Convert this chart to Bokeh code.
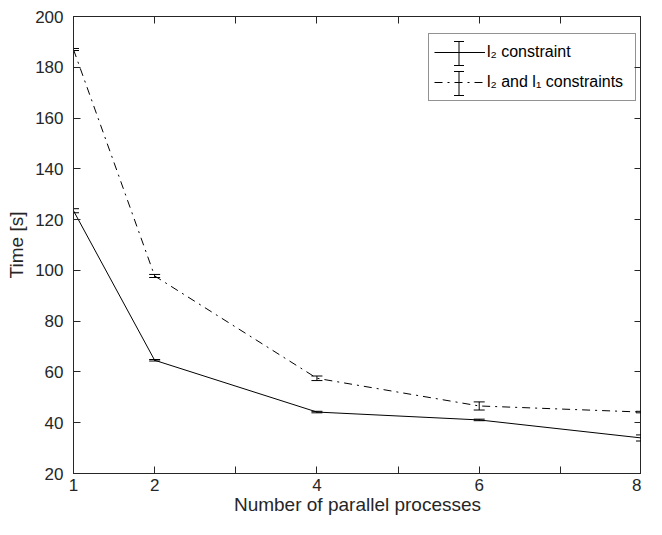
from bokeh.plotting import figure
from bokeh.models import (ColumnDataSource, Range1d, LinearAxis, FixedTicker,
                          Whisker, TeeHead, Legend, LegendItem)
from bokeh.embed import file_html
from bokeh.resources import INLINE

# ---- data ----
procs = [1, 2, 4, 6, 8]
time_l2 = [123.5, 64.6, 44.2, 41.1, 34.0]
err_l2 = [0.8, 0.3, 0.3, 0.3, 1.2]
time_l2l1 = [187.0, 97.8, 57.5, 46.6, 44.2]
err_l2l1 = [0.4, 0.6, 0.9, 1.6, 0.3]

x_ticks = [1, 2, 4, 6, 8]
x_minor_ticks = [3, 5, 7]
y_ticks = [20, 40, 60, 80, 100, 120, 140, 160, 180, 200]

series_labels = ["l\u2082 constraint", "l\u2082 and l\u2081 constraints"]

AX = "#262626"
FONT = "Liberation Sans"

X0, X1, Y0, Y1 = 1, 8, 20, 200

# ---- layout constants ----
FL, FT, FW, FH, FBOT = 73, 16, 568, 457, 46

p = figure(frame_width=FW, frame_height=FH,
           x_range=Range1d(X0, X1), y_range=Range1d(Y0, Y1),
           output_backend="svg", toolbar_location=None,
           min_border_left=FL, min_border_right=0, min_border_top=FT,
           min_border_bottom=FBOT,
           x_axis_label="Number of parallel processes", y_axis_label="Time [s]")
p.xgrid.visible = False
p.ygrid.visible = False
p.outline_line_color = AX
p.background_fill_color = "white"
p.border_fill_color = "white"


def style_axis(ax, ticker, show_labels):
    ax.ticker = ticker
    ax.axis_line_color = AX
    ax.axis_line_width = 1
    ax.major_tick_line_color = AX
    ax.minor_tick_line_color = AX
    ax.major_tick_in = 7
    ax.major_tick_out = 0
    ax.minor_tick_in = 7
    ax.minor_tick_out = 0
    ax.major_label_text_font = FONT
    if show_labels:
        ax.major_label_text_font_size = "17px"
        ax.major_label_text_color = AX
    else:
        ax.major_label_text_font_size = "1px"
        ax.major_label_text_color = None
        ax.major_label_text_alpha = 0
        ax.major_label_standoff = 0


def x_ticker():
    return FixedTicker(ticks=x_ticks, minor_ticks=x_minor_ticks)


def y_ticker():
    return FixedTicker(ticks=y_ticks, minor_ticks=[])


xa = p.xaxis[0]
style_axis(xa, x_ticker(), True)
xa.major_label_standoff = 5
xa.axis_label_standoff = 0
xa.axis_label_text_font = FONT
xa.axis_label_text_font_size = "19px"
xa.axis_label_text_font_style = "normal"
xa.axis_label_text_color = AX

ya = p.yaxis[0]
style_axis(ya, y_ticker(), True)
ya.major_label_standoff = 10
ya.axis_label_standoff = 5
ya.axis_label_text_font = FONT
ya.axis_label_text_font_size = "19px"
ya.axis_label_text_font_style = "normal"
ya.axis_label_text_color = AX

top = LinearAxis()
style_axis(top, x_ticker(), False)
p.add_layout(top, "above")
right = LinearAxis()
style_axis(right, y_ticker(), False)
p.add_layout(right, "right")

# ---- series ----
src1 = ColumnDataSource(dict(x=procs, y=time_l2,
                             lo=[t - e for t, e in zip(time_l2, err_l2)],
                             hi=[t + e for t, e in zip(time_l2, err_l2)]))
src2 = ColumnDataSource(dict(x=procs, y=time_l2l1,
                             lo=[t - e for t, e in zip(time_l2l1, err_l2l1)],
                             hi=[t + e for t, e in zip(time_l2l1, err_l2l1)]))

DASH = "8 5 2 5"
r1 = p.line("x", "y", source=src1, line_color="black", line_width=1)
r2 = p.line("x", "y", source=src2, line_color="black", line_width=1, line_dash=DASH)

CAP = 11
for s in (src1, src2):
    p.add_layout(Whisker(base="x", lower="lo", upper="hi", source=s,
                         line_color="black", line_width=1,
                         lower_head=TeeHead(size=CAP, line_color="black", line_width=1),
                         upper_head=TeeHead(size=CAP, line_color="black", line_width=1)))

# ---- legend (transparent box: no data line passes under it) ----
PAD, SPC, GW, GH, LW, LST = 5, 4, 51, 26, 143, 2
VX, VY = 355, FH - 85               # legend bottom-left, px from frame bottom-left
legend = Legend(items=[LegendItem(label=series_labels[0], renderers=[r1]),
                       LegendItem(label=series_labels[1], renderers=[r2])],
                location=(VX, VY), padding=PAD, spacing=SPC, margin=0,
                glyph_width=GW, glyph_height=GH, label_height=GH,
                label_width=LW, label_standoff=LST,
                label_text_font=FONT, label_text_font_size="16px",
                label_text_color="black",
                border_line_color=AX, border_line_width=1,
                background_fill_alpha=0.0)
p.add_layout(legend)

# error-bar icons drawn inside the legend's glyph boxes
# (legend layout px converted to data units through the frame size)
leg_h = 2 * PAD + 2 * GH + SPC
icon_px = VX + PAD + GW / 2
row_px = [VY + leg_h - PAD - GH / 2, VY + leg_h - PAD - GH - SPC - GH / 2]
ux = (X1 - X0) / FW
uy = (Y1 - Y0) / FH
ICON_HALF = 12
icons = ColumnDataSource(dict(x=[X0 + icon_px * ux] * 2,
                              lo=[Y0 + (c - ICON_HALF) * uy for c in row_px],
                              hi=[Y0 + (c + ICON_HALF) * uy for c in row_px]))
p.add_layout(Whisker(base="x", lower="lo", upper="hi", source=icons,
                     line_color="black", line_width=1,
                     lower_head=TeeHead(size=10, line_color="black", line_width=1),
                     upper_head=TeeHead(size=10, line_color="black", line_width=1)))

open("out.html", "w").write(file_html(p, INLINE))
